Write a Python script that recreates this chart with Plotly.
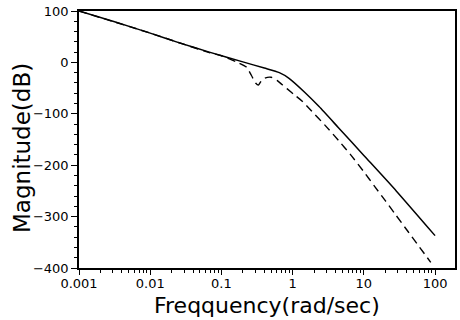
import plotly.graph_objects as go

# Bode magnitude response of two models
freq_a = [0.001, 0.00316, 0.01, 0.0257, 0.0676, 0.2, 0.4, 0.65, 0.89,
          1.5, 2.35, 4.4, 10, 28.5, 100]
mag_a = [100, 79, 57, 38, 20, 1, -11, -20, -31,
         -59, -86, -127, -181, -250, -337]

freq_b = [0.001, 0.01, 0.0676, 0.1, 0.162, 0.224, 0.263, 0.302, 0.331,
          0.363, 0.417, 0.501, 0.603, 0.708, 0.832, 1.1, 1.35, 1.86,
          2.88, 4.42, 6.46, 9.77, 14.5, 20, 27.5, 41.7, 87]
mag_b = [100, 57, 19, 13, 1, -9, -25, -40, -44,
         -36, -30, -29, -35, -43, -51, -65, -75, -95,
         -123, -152, -179, -211, -243, -269, -295, -329, -389]

x_ticks = [0.001, 0.01, 0.1, 1, 10, 100]
x_tick_text = ["0.001", "0.01", "0.1", "1", "10", "100"]
y_ticks = [100, 0, -100, -200, -300, -400]

minor_x = [m * d for d in x_ticks for m in range(2, 10)]

FONT = "DejaVu Sans"

fig = go.Figure()
fig.add_trace(go.Scatter(
    x=freq_a, y=mag_a, mode="lines",
    line=dict(color="black", width=1.5, shape="spline", smoothing=0.6),
))
fig.add_trace(go.Scatter(
    x=freq_b, y=mag_b, mode="lines",
    line=dict(color="black", width=1.4, dash="8px,5px", shape="spline", smoothing=0.6),
))

fig.update_layout(
    width=460, height=320,
    margin=dict(l=79, r=3, t=11, b=52),
    paper_bgcolor="white", plot_bgcolor="white",
    showlegend=False,
    font=dict(family=FONT, color="black", size=13),
    xaxis=dict(
        type="log", range=[-3, 2.28],
        tickvals=x_ticks, ticktext=x_tick_text,
        ticks="outside", ticklen=5, tickwidth=1.3, tickcolor="black",
        ticklabelstandoff=-2,
        minor=dict(tickvals=minor_x, ticks="outside", ticklen=3,
                   tickwidth=1, tickcolor="black", showgrid=False),
        showline=True, linecolor="black", linewidth=1.6, mirror=True,
        showgrid=False, zeroline=False,
        tickfont=dict(family=FONT, size=13),
    ),
    yaxis=dict(
        range=[-400, 100],
        tickvals=y_ticks,
        ticks="outside", ticklen=6, tickwidth=1.3, tickcolor="black",
        minor=dict(dtick=20, ticks="outside", ticklen=3, tickwidth=1,
                   tickcolor="black", showgrid=False),
        showline=True, linecolor="black", linewidth=1.6, mirror=True,
        showgrid=False, zeroline=False,
        tickfont=dict(family=FONT, size=13),
    ),
    annotations=[
        dict(text="Freqquency(rad/sec)", xref="paper", yref="paper",
             x=0.5, y=0, xanchor="center", yanchor="middle", yshift=-37,
             showarrow=False, font=dict(family=FONT, size=22)),
        dict(text="Magnitude(dB)", xref="paper", yref="paper",
             x=0, y=0.467, xanchor="center", yanchor="middle", xshift=-57,
             textangle=-90, showarrow=False, font=dict(family=FONT, size=23)),
    ],
)

fig.write_html("out.html")
